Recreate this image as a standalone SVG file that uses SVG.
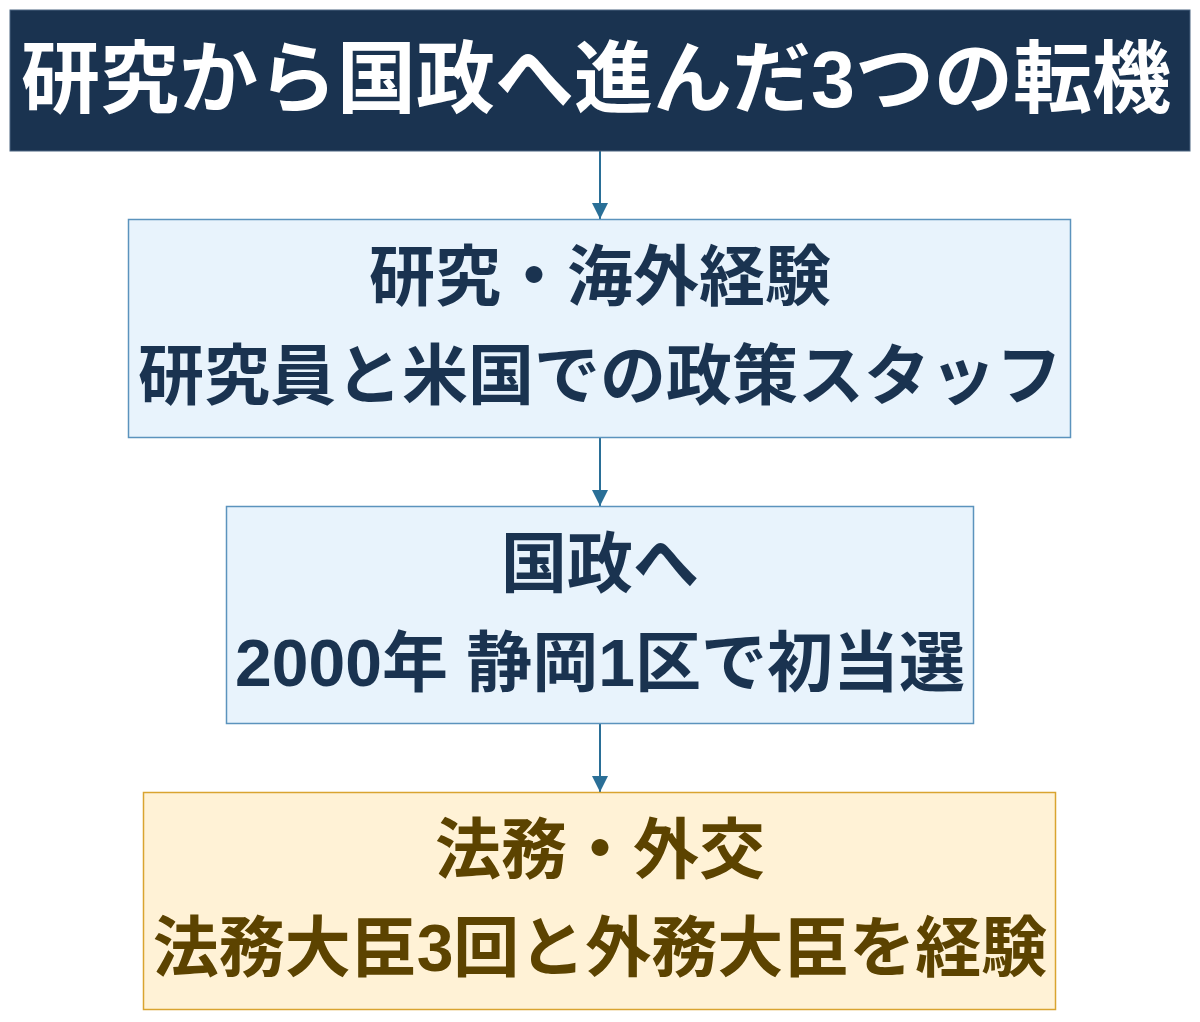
<svg xmlns="http://www.w3.org/2000/svg" width="1200" height="1022" viewBox="0 0 1200 1022">
<style>
text{font-family:"Liberation Sans","Noto Sans CJK JP",sans-serif;font-weight:bold;text-anchor:middle}
.title{font-size:79px;fill:#ffffff}
.t{font-size:66px;fill:#1a3350}
.w{font-size:66px;fill:#5c4300}
.blue{fill:#e8f3fc;stroke:#5b93bd;stroke-width:1.5}
.gold{fill:#fff2d6;stroke:#d9a430;stroke-width:1.5}
.conn{stroke:#2a6f97;stroke-width:2;fill:none;marker-end:url(#ah)}
</style>
<defs>
<marker id="ah" markerUnits="userSpaceOnUse" markerWidth="16" markerHeight="16" refX="16" refY="8" orient="auto" viewBox="0 0 16 16">
<path d="M0,0 L16,8 L0,16 Z" fill="#2a6f97"/>
</marker>
</defs>
<rect width="1200" height="1022" fill="#ffffff"/>
<g id="connectors">
<line class="conn" x1="600" y1="151" x2="600" y2="219"/>
<line class="conn" x1="600" y1="437" x2="600" y2="506"/>
<line class="conn" x1="600" y1="724" x2="600" y2="792"/>
</g>
<g id="title">
<rect x="10" y="10" width="1180" height="141" fill="#1a3350" stroke="#4a6480" stroke-width="1"/>
<text class="title" x="596" y="107">研究から国政へ進んだ3つの転機</text>
</g>
<g id="node1">
<rect class="blue" x="128.5" y="219.5" width="942" height="218"/>
<text class="t" x="600" y="300">研究・海外経験</text>
<text class="t" x="600" y="399">研究員と米国での政策スタッフ</text>
</g>
<g id="node2">
<rect class="blue" x="226.5" y="506.5" width="747" height="217"/>
<text class="t" x="600" y="587">国政へ</text>
<text class="t" x="600" y="686">2000年 静岡1区で初当選</text>
</g>
<g id="node3">
<rect class="gold" x="143.5" y="792.5" width="912" height="217"/>
<text class="w" x="600" y="873">法務・外交</text>
<text class="w" x="600" y="971">法務大臣3回と外務大臣を経験</text>
</g>
</svg>
